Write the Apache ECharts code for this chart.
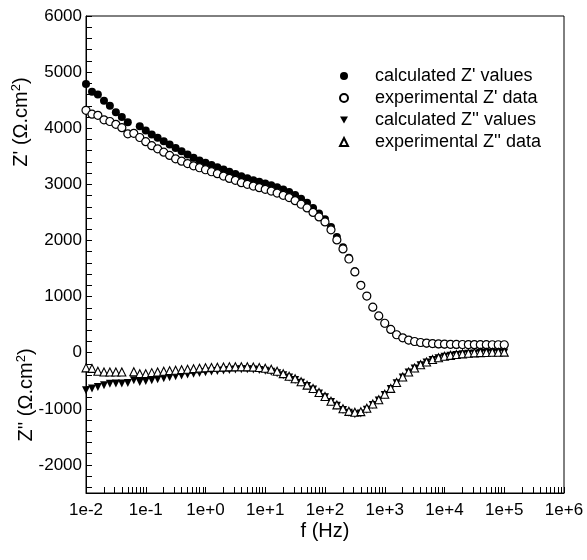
<!DOCTYPE html>
<html>
<head>
<meta charset="utf-8">
<script src="https://cdn.jsdelivr.net/npm/echarts@6/dist/echarts.min.js"></script>
<style>html,body{margin:0;padding:0;background:#fff}#c{width:587px;height:560px}</style>
</head>
<body>
<div id="c"></div>
<script>
// Frequencies (Hz), 10 points per decade
const freq = [0.01,0.0126,0.0158,0.02,0.0251,0.0316,0.0398,0.0501,0.0631,0.0794,
  0.1,0.126,0.158,0.2,0.251,0.316,0.398,0.501,0.631,0.794,
  1,1.26,1.58,2,2.51,3.16,3.98,5.01,6.31,7.94,
  10,12.6,15.8,20,25.1,31.6,39.8,50.1,63.1,79.4,
  100,126,158,200,251,316,398,501,631,794,
  1000,1260,1580,2000,2510,3160,3980,5010,6310,7940,
  10000,12600,15800,20000,25100,31600,39800,50100,63100,79400,
  100000];

const zReCalc = [4790,4650,4600,4490,4400,4285,4200,4105,null,4035,
  3960,3890,3830,3770,3710,3650,3590,3530,3475,3425,
  3385,3345,3305,3265,3225,3185,3145,3110,3075,3045,
  3015,2985,2950,2910,2865,2810,2745,2670,2580,2480,
  2380,2240,2060,1880,1690,1450,1205,1010,812,655,
  522,412,320,262,222,196,178,166,158,152,
  148,145,143,141,140,139,138,138,137,137,137];

const zReExp = [4320,4250,4230,4150,4120,4070,4010,3900,3910,3835,
  3760,3690,3633,3573,3515,3455,3413,3370,3330,3296,
  3260,3225,3190,3147,3106,3071,3030,3000,2970,2941,
  2911,2881,2845,2805,2764,2710,2645,2580,2500,2420,
  2330,2190,2010,1850,1670,1440,1200,1010,811,655,
  525,415,320,265,225,200,182,172,163,157,
  153,150,148,146,145,144,143,143,142,142,142];

const zImCalc = [-670,-640,-610,-580,-555,-550,-548,-540,-490,-520,
  -505,-490,-473,-455,-437,-420,-405,-390,-375,-360,
  -348,-336,-325,-315,-306,-300,-297,-297,-300,-308,
  -320,-340,-368,-402,-442,-487,-537,-595,-655,-728,
  -795,-878,-945,-1020,-1072,-1095,-1085,-1015,-932,-852,
  -752,-648,-543,-443,-353,-283,-224,-175,-130,-98,
  -72,-55,-40,-28,-18,-12,-7,-3,0,2,3];

const zImExp = [-270,-280,-331,-343,-343,-343,-343,null,-340,-373,
  -373,-355,-343,-331,-320,-312,-302,-294,-284,-275,
  -268,-262,-258,-254,-252,-250,-250,-252,-256,-264,
  -276,-296,-331,-373,-420,-465,-518,-578,-638,-710,
  -780,-865,-930,-1000,-1045,-1060,-1050,-990,-915,-838,
  -740,-636,-532,-432,-345,-273,-214,-166,-120,-90,
  -63,-47,-32,-20,-10,-3,2,5,7,9,10];

const seriesNames = ["calculated Z' values", "experimental Z' data", "calculated Z'' values", "experimental Z'' data"];
const yTickLabels = [-2000,-1000,0,1000,2000,3000,4000,5000,6000];
const xDecadeLabels = [-2,-1,0,1,2,3,4,5,6];   // exponents of the decade labels 1e-2 ... 1e+6
const minorMultipliers = [2,3,4,5,6,7,8,9];

const FONT = 'Liberation Sans';

// x is plotted on a value axis in log10(f) space
function pairs(vals) {
  const out = [];
  for (let i = 0; i < freq.length; i++) {
    if (vals[i] !== null && vals[i] !== undefined) out.push([Math.log10(freq[i]), vals[i]]);
  }
  return out;
}

const xTicks = [];
xDecadeLabels.forEach(d => {
  xTicks.push(d);
  if (d < 6) minorMultipliers.forEach(m => xTicks.push(d + Math.log10(m)));
});
const yTicks = [];
for (let v = -2400; v <= 6000; v += 200) yTicks.push(v);

function fmtX(v) {
  const e = Math.round(v);
  return '1e' + (e < 0 ? '-' : '+') + Math.abs(e);
}

function ls() { return { color: '#000', width: 1 }; }

const chart = echarts.init(document.getElementById('c'));
chart.setOption({
  backgroundColor: '#fff',
  animation: false,
  grid: { left: 86, right: 23, top: 16, bottom: 67, show: true, borderColor: '#000', borderWidth: 1 },
  xAxis: {
    type: 'value', min: -2, max: 6,
    axisLine: { show: true, onZero: false, lineStyle: ls() },
    axisTick: { show: true, inside: true, length: 6, lineStyle: ls(), customValues: xTicks },
    axisLabel: { show: true, customValues: xDecadeLabels, formatter: fmtX,
      fontFamily: FONT, fontSize: 17, color: '#000', margin: 9 },
    splitLine: { show: false }
  },
  yAxis: {
    type: 'value', min: -2500, max: 6000,
    axisLine: { show: true, onZero: false, lineStyle: ls() },
    axisTick: { show: true, inside: true, length: 6, lineStyle: ls(), customValues: yTicks },
    axisLabel: { show: true, customValues: yTickLabels, formatter: v => String(v),
      fontFamily: FONT, fontSize: 17, color: '#000', margin: 4 },
    splitLine: { show: false }
  },
  legend: {
    orient: 'vertical', left: 334, top: 62,
    itemWidth: 8, itemHeight: 8, itemGap: 4,
    textStyle: { fontFamily: FONT, fontSize: 18, color: '#000', lineHeight: 18, padding: [0, 0, 0, 22] },
    data: [
      { name: seriesNames[0] },
      { name: seriesNames[1] },
      { name: seriesNames[2], icon: 'path://M0,0L10,0L5,9Z' },
      { name: seriesNames[3] }
    ]
  },
  graphic: [
    { type: 'text', x: 325, y: 531,
      style: { text: 'f (Hz)', fontFamily: FONT, fontSize: 20, fill: '#000', textAlign: 'center', textVerticalAlign: 'middle' } },
    { type: 'text', x: 21, y: 122, rotation: Math.PI / 2,
      style: { text: "{a|Z' (Ω.cm}{s|2}{a|)}", fill: '#000', textAlign: 'center', textVerticalAlign: 'middle',
        rich: { a: { fontFamily: FONT, fontSize: 20, lineHeight: 22, fill: '#000' },
                s: { fontFamily: FONT, fontSize: 13, lineHeight: 22, verticalAlign: 'top', fill: '#000' } } } },
    { type: 'text', x: 26, y: 395, rotation: Math.PI / 2,
      style: { text: "{a|Z'' (Ω.cm}{s|2}{a|)}", fill: '#000', textAlign: 'center', textVerticalAlign: 'middle',
        rich: { a: { fontFamily: FONT, fontSize: 20, lineHeight: 22, fill: '#000' },
                s: { fontFamily: FONT, fontSize: 13, lineHeight: 22, verticalAlign: 'top', fill: '#000' } } } }
  ],
  series: [
    { name: seriesNames[0], type: 'scatter', data: pairs(zReCalc),
      symbol: 'circle', symbolSize: 8, itemStyle: { color: '#000', opacity: 1 } },
    { name: seriesNames[1], type: 'scatter', data: pairs(zReExp),
      symbol: 'circle', symbolSize: 8, itemStyle: { color: '#fff', borderColor: '#000', borderWidth: 1.2, opacity: 1 } },
    { name: seriesNames[2], type: 'scatter', data: pairs(zImCalc),
      symbol: 'triangle', symbolRotate: 180, symbolSize: 8, itemStyle: { color: '#000', opacity: 1 } },
    { name: seriesNames[3], type: 'scatter', data: pairs(zImExp),
      symbol: 'triangle', symbolSize: 8, itemStyle: { color: '#fff', borderColor: '#000', borderWidth: 1.1, opacity: 1 } }
  ]
});
</script>
</body>
</html>
